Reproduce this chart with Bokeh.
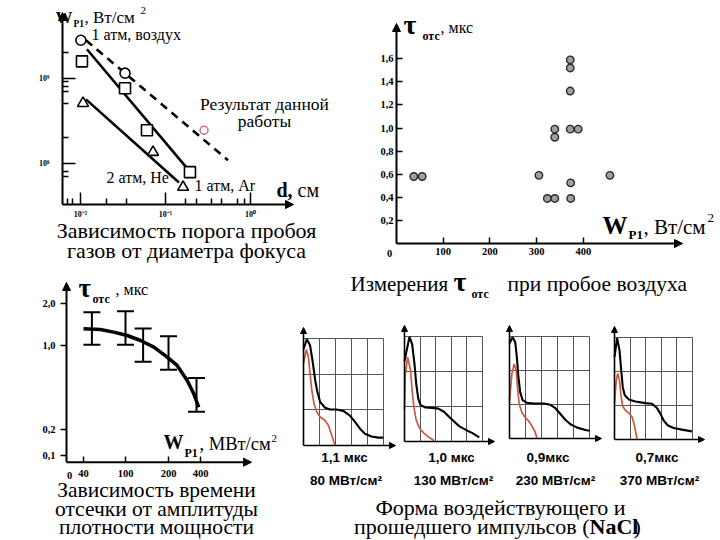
import numpy as np
from bokeh.plotting import figure
from bokeh.models import (Range1d, FixedTicker, Label, Arrow, NormalHead, Whisker,
                          TeeHead, ColumnDataSource, Grid)
from bokeh.layouts import row, column
from bokeh.embed import file_html
from bokeh.resources import INLINE

SERIF = "Liberation Serif"
SANS = "Liberation Sans"
RED = "#cc5a42"
GRIDC = "#555555"

# ---------------- data: threshold vs focus diameter (log-log) ----------------
air_d = [0.0101, 0.0334]
air_w = [2.78e9, 1.14e9]
ar_d = [0.0104, 0.0334, 0.0605, 0.194]
ar_w = [1.57e9, 7.57e8, 2.43e8, 7.8e7]
he_d = [0.0107, 0.0713, 0.161]
he_w = [5.04e8, 1.34e8, 5.2e7]
this_d = [0.284]
this_w = [2.43e8]
fit_air_d = [0.0116, 0.543]
fit_air_w = [2.78e9, 1.08e8]
fit_ar_d = [0.0119, 0.179]
fit_ar_w = [2.18e9, 8.7e7]
fit_he_d = [0.0116, 0.144]
fit_he_w = [5.6e8, 5.9e7]
tl_x_major = [0.01, 0.1, 1.0]
tl_x_labels = ["10⁻²", "10⁻¹", "10⁰"]
tl_x_minor = [0.007, 0.008, 0.02, 0.035, 0.17, 0.23, 0.35, 0.45, 0.7, 0.85]
tl_y_major = [1e8, 1e9]
tl_y_labels = ["10⁸", "10⁹"]
tl_y_minor = [7e7, 8e7, 2e8, 5e8, 7e8, 8e8, 9e8, 2e9]

# ---------------- data: cutoff time measurements in air ----------------
tr_w = [37, 55, 305, 323, 339, 339, 339, 372, 372, 372, 372, 389, 373, 373, 457]
tr_tau = [0.58, 0.58, 0.59, 0.39, 0.39, 0.99, 0.92, 1.59, 1.52, 1.32, 0.99, 0.99, 0.525, 0.39, 0.59]
tr_x_ticks = [100, 200, 300, 400]
tr_y_ticks = [0.2, 0.4, 0.6, 0.8, 1.0, 1.2, 1.4, 1.6]
tr_y_labels = ["0,2", "0,4", "0,6", "0,8", "1,0", "1,2", "1,4", "1,6"]

# ---------------- data: cutoff time vs power density ----------------
bl_w = [52, 100, 141, 200, 375]
bl_tau_hi = [1.80, 1.82, 1.41, 1.22, 0.69]
bl_tau_lo = [1.02, 1.02, 0.845, 0.77, 0.37]
bl_fit_w = [40, 64, 83, 104, 135, 166, 197, 254, 317, 358, 389]
bl_fit_tau = [1.40, 1.384, 1.32, 1.24, 1.12, 0.984, 0.889, 0.81, 0.667, 0.54, 0.412]
# hand-drawn (non-uniform) axes: tick values and where they sit along the axis
bl_x_values = [0, 40, 100, 200, 400]
bl_x_pos = [3, 17, 59, 102, 134]
bl_x_labels = ["0", "40", "100", "200", "400"]
bl_y_values = [0, 0.1, 0.2, 1.0, 2.0]
bl_y_pos = [0, 6.7, 32.7, 116.7, 158.4]
bl_y_labels = ["", "0,1", "0,2", "1,0", "2,0"]

# ---------------- data: pulse shapes (grid divisions) ----------------
pulse_black_x = [
    [0, 0.21, 0.41, 0.56, 0.73, 0.87, 1.04, 1.35, 1.66, 2.07, 2.49, 2.90, 3.22, 3.53, 3.84, 4.25, 4.67, 4.98],
    [0, 0.32, 0.49, 0.64, 0.75, 0.88, 1.03, 1.35, 1.78, 2.17, 2.53, 2.85, 3.18, 3.50, 3.93, 4.36, 4.79],
    [0, 0.19, 0.36, 0.46, 0.56, 0.67, 0.82, 1.09, 1.51, 2.13, 2.55, 2.87, 3.18, 3.49, 3.81, 4.23, 4.75, 5.0],
    [0, 0.17, 0.32, 0.43, 0.53, 0.66, 0.91, 1.34, 1.98, 2.40, 2.72, 2.94, 3.15, 3.43, 3.79, 4.32, 4.96],
]
pulse_black_y = [
    [2.70, 2.98, 2.81, 2.39, 1.83, 1.50, 1.22, 1.06, 1.01, 1.01, 0.97, 0.84, 0.66, 0.47, 0.33, 0.25, 0.22, 0.22],
    [2.30, 2.99, 2.78, 2.22, 1.65, 1.23, 1.04, 0.97, 0.96, 0.94, 0.85, 0.71, 0.57, 0.44, 0.33, 0.24, 0.12],
    [2.80, 2.98, 2.83, 2.39, 1.80, 1.36, 1.13, 1.05, 1.03, 1.03, 0.99, 0.89, 0.72, 0.55, 0.42, 0.32, 0.25, 0.23],
    [2.43, 2.98, 2.63, 2.04, 1.54, 1.30, 1.18, 1.12, 1.07, 1.05, 0.93, 0.76, 0.56, 0.41, 0.34, 0.29, 0.24],
]
pulse_red_x = [
    [0, 0.17, 0.31, 0.41, 0.52, 0.66, 0.83, 1.04, 1.35, 1.56, 1.70, 1.87, 1.97],
    [0, 0.05, 0.2, 0.39, 0.49, 0.60, 0.75, 0.97, 1.24, 1.57, 1.89],
    [0, 0.15, 0.29, 0.42, 0.50, 0.61, 0.77, 0.98, 1.19, 1.40, 1.61, 1.72],
    [0, 0.11, 0.21, 0.32, 0.43, 0.53, 0.70, 0.96, 1.13, 1.28, 1.38, 1.45],
]
pulse_red_y = [
    [2.30, 2.69, 2.48, 2.01, 1.55, 1.17, 0.94, 0.80, 0.70, 0.56, 0.37, 0.14, 0.0],
    [0.90, 1.90, 2.41, 2.03, 1.46, 0.99, 0.61, 0.38, 0.24, 0.12, 0.03],
    [1.11, 1.90, 2.19, 2.00, 1.50, 1.01, 0.77, 0.62, 0.52, 0.37, 0.18, 0.0],
    [1.05, 1.74, 1.94, 1.74, 1.25, 0.97, 0.86, 0.76, 0.66, 0.41, 0.17, 0.0],
]
pulse_tau = ["1,1 мкс", "1,0 мкс", "0,9мкс", "0,7мкс"]
pulse_power = ["80 МВт/см²", "130 МВт/см²", "230 МВт/см²", "370 МВт/см²"]


# ---------------- helpers ----------------
def put(p, conv, rx, ry, text, size, bold=False, align="left", font=SERIF):
    """ry is the vertical centre of the text line (page pixels)."""
    x, y = conv(rx, ry)
    p.add_layout(Label(x=x, y=y, text=text, text_font=font, text_font_size=f"{size}px",
                       text_font_style="bold" if bold else "normal", text_align=align,
                       text_baseline="middle", text_color="black"))


def make_fig(rect, conv, axes=True, **kw):
    """Figure whose frame fills the whole canvas; rect is its box in page pixels."""
    rx0, ry0, rx1, ry1 = rect
    xs, ys = conv(rx0, ry1)
    xe, ye = conv(rx1, ry0)
    extra = {} if axes else dict(x_axis_location=None, y_axis_location=None)
    p = figure(width=rx1 - rx0, height=ry1 - ry0, x_range=Range1d(xs, xe), y_range=Range1d(ys, ye),
               output_backend="svg", toolbar_location=None, min_border=0,
               min_border_left=0, min_border_right=0, min_border_top=0, min_border_bottom=0,
               **extra, **kw)
    p.outline_line_color = None
    p.grid.visible = False
    p.background_fill_color = "white"
    p.border_fill_color = "white"
    return p


def style_axis(ax, loc, t_in=0, t_out=0, m_in=0, size="9px", standoff=5):
    ax.fixed_location = loc
    ax.axis_line_color = None
    ax.major_tick_in = t_in
    ax.major_tick_out = t_out
    ax.major_tick_line_color = "black"
    ax.major_tick_line_width = 1.5
    ax.minor_tick_in = m_in
    ax.minor_tick_out = 0
    ax.minor_tick_line_color = "black" if m_in else None
    ax.minor_tick_line_width = 1.5
    ax.major_label_text_font = SERIF
    ax.major_label_text_font_style = "bold"
    ax.major_label_text_font_size = size
    ax.major_label_text_color = "black"
    ax.major_label_standoff = standoff


def arrow(p, x0, y0, x1, y1, size=8, width=2):
    p.add_layout(Arrow(end=NormalHead(size=size, fill_color="black", line_color="black"),
                       x_start=x0, y_start=y0, x_end=x1, y_end=y1,
                       line_width=width, line_color="black"))


# ================= top-left: log-log =================
LX0 = -2 - 18 / 85
LY0 = 8 - 41.5 / 85


def conv_tl(rx, ry):
    return 10 ** (LX0 + (rx - 62) / 85), 10 ** (LY0 + (204 - ry) / 85)


tl = make_fig((0, 0, 345, 267), conv_tl, x_axis_type="log", y_axis_type="log")
ox, oy = conv_tl(62, 204)
tl.xaxis.ticker = FixedTicker(ticks=tl_x_major, minor_ticks=tl_x_minor)
tl.yaxis.ticker = FixedTicker(ticks=tl_y_major, minor_ticks=tl_y_minor)
tl.xaxis.major_label_overrides = dict(zip(tl_x_major, tl_x_labels))
tl.yaxis.major_label_overrides = dict(zip(tl_y_major, tl_y_labels))
style_axis(tl.xaxis[0], oy, t_in=12, m_in=6, size="8px", standoff=5)
style_axis(tl.yaxis[0], ox, t_in=13, m_in=6, size="8px", standoff=13)

tl.line(fit_air_d, fit_air_w, line_color="black", line_width=2.6, line_dash="8 6")
tl.line(fit_ar_d, fit_ar_w, line_color="black", line_width=2.6)
tl.line(fit_he_d, fit_he_w, line_color="black", line_width=2.6)
tl.scatter(air_d, air_w, marker="circle", size=10, fill_color="white", line_color="black", line_width=1.6)
tl.scatter(ar_d, ar_w, marker="square", size=11, fill_color="white", line_color="black", line_width=1.6)
tl.scatter(he_d, he_w, marker="triangle", size=11, fill_color="white", line_color="black", line_width=1.6)
tl.scatter(this_d, this_w, marker="circle", size=8, fill_color="white", line_color="#d46a6a", line_width=1.4)

arrow(tl, ox, oy, ox, conv_tl(62, 12)[1])
arrow(tl, ox, oy, conv_tl(293, 204)[0], oy)

put(tl, conv_tl, 55, 16.5, "W", 17, bold=True)
put(tl, conv_tl, 73, 23, "P1", 9.5, bold=True)
put(tl, conv_tl, 84, 16.5, ", Вт/см", 17)
put(tl, conv_tl, 140, 10, "2", 11)
put(tl, conv_tl, 91, 34, "1 атм, воздух", 16)
put(tl, conv_tl, 264, 103, "Результат данной", 17.5, align="center")
put(tl, conv_tl, 264, 120.5, "работы", 17.5, align="center")
put(tl, conv_tl, 106, 176.5, "2 атм, He", 16)
put(tl, conv_tl, 194, 184.5, "1 атм, Ar", 16)
put(tl, conv_tl, 276, 189, "d,", 20, bold=True)
put(tl, conv_tl, 297, 189, "см", 20)
put(tl, conv_tl, 186, 230, "Зависимость порога пробоя", 22, align="center")
put(tl, conv_tl, 186, 250, "газов от диаметра фокуса", 22, align="center")


# ================= top-right: scatter =================
def conv_tr(rx, ry):
    return (rx - 396) / 0.467, (243 - ry) / 115.5


tr = make_fig((345, 0, 720, 267), conv_tr)
tr.xaxis.ticker = FixedTicker(ticks=tr_x_ticks)
tr.yaxis.ticker = FixedTicker(ticks=tr_y_ticks)
tr.yaxis.major_label_overrides = dict(zip(tr_y_ticks, tr_y_labels))
style_axis(tr.xaxis[0], 0, t_in=6, size="10.5px", standoff=4)
style_axis(tr.yaxis[0], 0, t_in=6, size="10.5px", standoff=3)
tr.scatter(tr_w, tr_tau, marker="circle", size=7.5, fill_color="#a0a0a0", line_color="#2a2a2a", line_width=1.4)
arrow(tr, 0, 0, 0, conv_tr(396, 23)[1])
arrow(tr, 0, 0, conv_tr(682, 243)[0], 0)

put(tr, conv_tr, 389, 253, "0", 10.5, bold=True, align="center")
put(tr, conv_tr, 403, 23.5, "τ", 28, bold=True)
put(tr, conv_tr, 422, 35, "отс", 12, bold=True)
put(tr, conv_tr, 440, 26.5, ", мкс", 16)
put(tr, conv_tr, 602, 224.5, "W", 25, bold=True)
put(tr, conv_tr, 628, 233.5, "P1", 13, bold=True)
put(tr, conv_tr, 643, 226, ", Вт/см", 21)
put(tr, conv_tr, 707, 217.5, "2", 13)


# ================= bottom-left: cutoff vs power =================
def conv_bl(rx, ry):
    return rx - 66, 461.7 - ry


bl = make_fig((0, 267, 290, 540), conv_bl)
bl.xaxis.ticker = FixedTicker(ticks=bl_x_pos[1:])
bl.xaxis.major_label_overrides = dict(zip(bl_x_pos[1:], bl_x_labels[1:]))
bl.yaxis.ticker = FixedTicker(ticks=bl_y_pos[1:])
bl.yaxis.major_label_overrides = dict(zip(bl_y_pos[1:], bl_y_labels[1:]))
style_axis(bl.xaxis[0], 0, t_in=6, size="10.5px", standoff=8)
style_axis(bl.yaxis[0], 0, t_out=6, size="10.5px", standoff=5)

bx = np.interp(bl_w, bl_x_values, bl_x_pos)
src = ColumnDataSource(dict(base=bx,
                            upper=np.interp(bl_tau_hi, bl_y_values, bl_y_pos),
                            lower=np.interp(bl_tau_lo, bl_y_values, bl_y_pos)))
bl.add_layout(Whisker(source=src, base="base", upper="upper", lower="lower", dimension="height",
                      line_width=2, line_color="black",
                      upper_head=TeeHead(size=17, line_width=2, line_color="black"),
                      lower_head=TeeHead(size=17, line_width=2, line_color="black")))
bl.line(np.interp(bl_fit_w, bl_x_values, bl_x_pos), np.interp(bl_fit_tau, bl_y_values, bl_y_pos),
        line_color="black", line_width=3.5)
arrow(bl, 0, 0, 0, conv_bl(66, 282)[1])
arrow(bl, 0, 0, conv_bl(251, 461.7)[0], 0)

put(bl, conv_bl, 69, 475, "0", 10.5, bold=True, align="center")
put(bl, conv_bl, 78, 287, "τ", 27, bold=True)
put(bl, conv_bl, 92, 298, "отс", 12, bold=True)
put(bl, conv_bl, 115, 288.5, ", мкс", 16)
put(bl, conv_bl, 163, 441.5, "W", 20, bold=True)
put(bl, conv_bl, 184, 452, "P1", 12, bold=True)
put(bl, conv_bl, 199, 443, ", МВт/см", 18.5)
put(bl, conv_bl, 271, 437.5, "2", 11)
put(bl, conv_bl, 156, 489.5, "Зависимость времени", 21.5, align="center")
put(bl, conv_bl, 156, 508, "отсечки от амплитуды", 21.5, align="center")
put(bl, conv_bl, 156, 526.5, "плотности мощности", 21.5, align="center")


# ================= bottom-right: texts and pulse panels =================
def conv_ct(rx, ry):
    return rx - 290, 299 - ry


cap_tr = make_fig((290, 267, 720, 299), conv_ct, axes=False)
put(cap_tr, conv_ct, 350, 283, "Измерения", 21)
put(cap_tr, conv_ct, 453, 280.5, "τ", 28, bold=True)
put(cap_tr, conv_ct, 471, 293, "отс", 12, bold=True)
put(cap_tr, conv_ct, 507, 283, "при пробое воздуха", 21.5)

PANEL_X0 = [290, 397, 503, 608]
PANEL_X1 = [397, 503, 608, 720]
PANEL_AX = [303, 404, 509, 614]
PANEL_GTOP = [338, 336, 336, 337]
PANEL_FW = [80, 78, 80, 78]
PANEL_FH = [107, 105, 102, 102]
PANEL_Y0, PANEL_Y1 = 299, 494
TAU_CX = [344, 451, 547.5, 656.5]
POW_CX = [345.5, 453, 555, 659]

panels = []
for i in range(4):
    cx, cy = PANEL_FW[i] / 5, PANEL_FH[i] / 3
    ax0 = PANEL_AX[i]
    gb = PANEL_GTOP[i] + PANEL_FH[i]

    def conv_p(rx, ry, ax0=ax0, gb=gb, cx=cx, cy=cy):
        return (rx - ax0) / cx, (gb - ry) / cy

    p = make_fig((PANEL_X0[i], PANEL_Y0, PANEL_X1[i], PANEL_Y1), conv_p, axes=False)
    try:
        p.add_layout(Grid(dimension=0, ticker=FixedTicker(ticks=[1, 2, 3, 4, 5]), cross_bounds=(0, 3),
                          grid_line_color=GRIDC, grid_line_width=1))
        p.add_layout(Grid(dimension=1, ticker=FixedTicker(ticks=[1, 2, 3]), cross_bounds=(0, 5),
                          grid_line_color=GRIDC, grid_line_width=1))
    except Exception:
        p.segment(x0=[1, 2, 3, 4, 5], y0=[0] * 5, x1=[1, 2, 3, 4, 5], y1=[3] * 5, line_color=GRIDC)
        p.segment(x0=[0] * 3, y0=[1, 2, 3], x1=[5] * 3, y1=[1, 2, 3], line_color=GRIDC)

    p.line(pulse_red_x[i], pulse_red_y[i], line_color=RED, line_width=1.7)
    p.line(pulse_black_x[i], pulse_black_y[i], line_color="black", line_width=2.1)
    arrow(p, 0, 0, 0, 3 + 11 / cy, size=6, width=1.6)
    arrow(p, 0, 0, 5 + 12 / cx, 0, size=6, width=1.6)
    put(p, conv_p, TAU_CX[i], 456.7, pulse_tau[i], 13.5, bold=True, align="center", font=SANS)
    put(p, conv_p, POW_CX[i], 480, pulse_power[i], 13.5, bold=True, align="center", font=SANS)
    panels.append(p)


def conv_cb(rx, ry):
    return rx - 290, 540 - ry


cap_br = make_fig((290, 494, 720, 540), conv_cb, axes=False)
put(cap_br, conv_cb, 500, 506.5, "Форма воздействующего и", 22, align="center")
put(cap_br, conv_cb, 589, 526, "прошедшего импульсов (", 22, align="right")
put(cap_br, conv_cb, 589, 526, "NaCl", 22, bold=True)
put(cap_br, conv_cb, 633, 526, ")", 22)

layout = column(
    row(tl, tr, spacing=0),
    row(bl, column(cap_tr, row(*panels, spacing=0), cap_br, spacing=0), spacing=0),
    spacing=0,
)

open("out.html", "w").write(file_html(layout, INLINE, title="plot"))
